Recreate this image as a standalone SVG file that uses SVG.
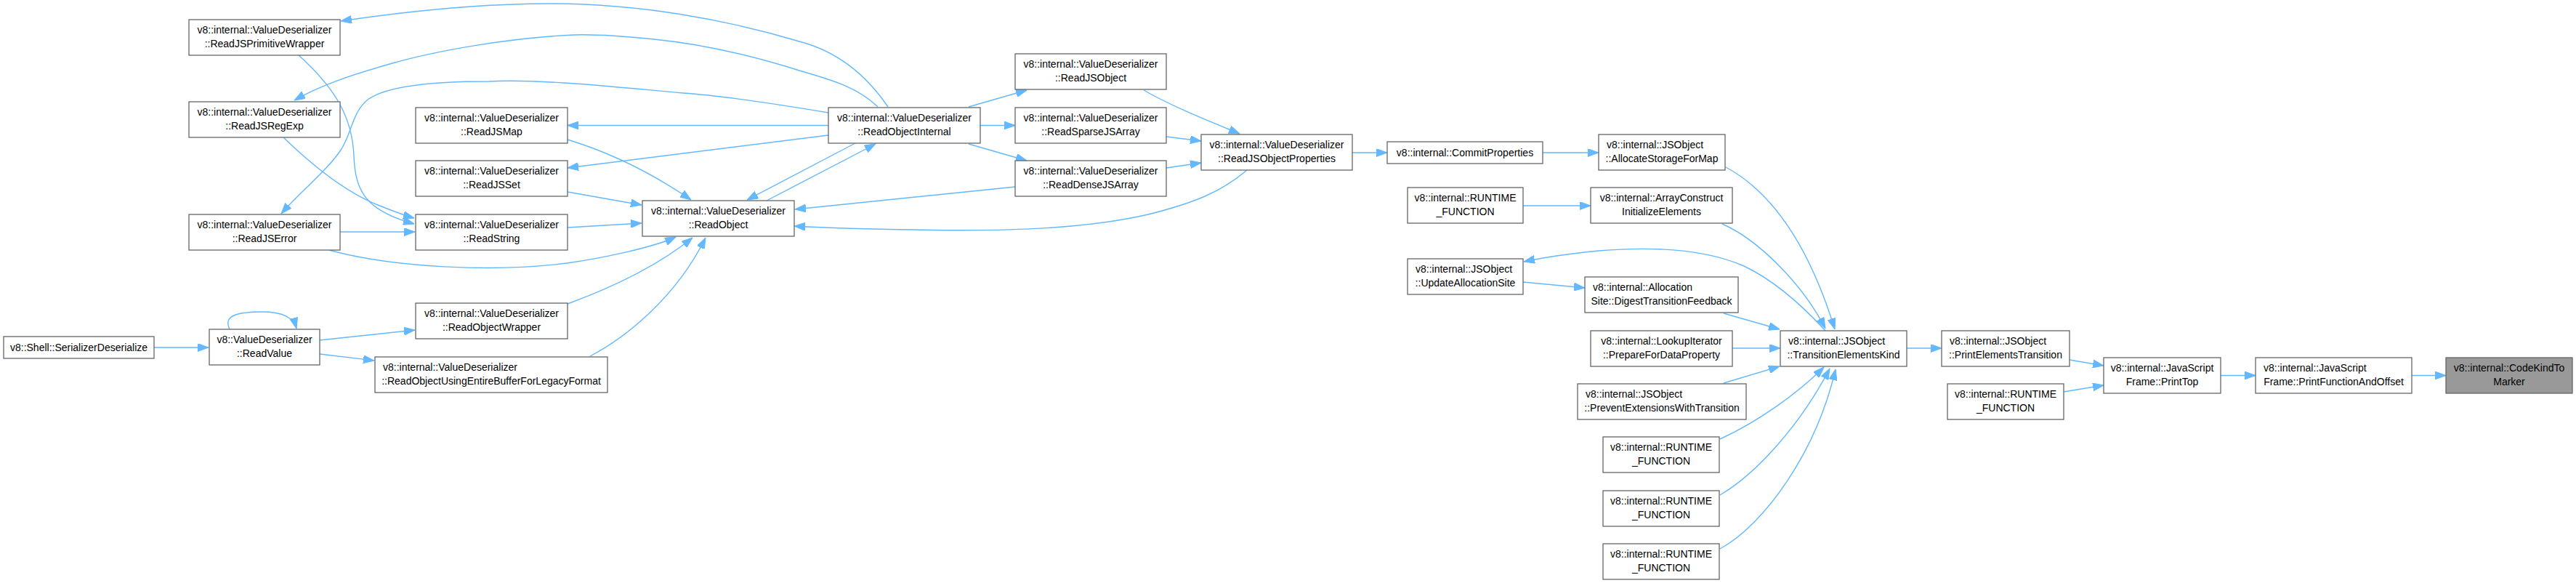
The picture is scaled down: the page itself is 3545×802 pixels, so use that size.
<svg xmlns="http://www.w3.org/2000/svg" width="3545" height="802" viewBox="0 0 3545 802">
<style>
.node rect{fill:#ffffff;stroke:#666666;stroke-width:1.3}
.node rect.hl{fill:#999999}
text{font-family:"Liberation Sans",Arial,sans-serif;font-size:14px;fill:#000000}
.c{text-anchor:middle}
.l{text-anchor:start}
.edges path{fill:none;stroke:#63B8FF;stroke-width:1.4;marker-end:url(#ah)}
</style>
<defs>
<marker id="ah" viewBox="0 0 15 11" refX="15" refY="5.5" markerWidth="15" markerHeight="11" markerUnits="userSpaceOnUse" orient="auto"><path d="M0,0 L15,5.5 L0,11 z" fill="#63B8FF" stroke="#63B8FF" stroke-width="1"/></marker>
</defs>
<rect x="0" y="0" width="3545" height="802" fill="#ffffff"/>
<g class="edges" id="edges">
<path d="M212,478 L287,478"/>
<path d="M316,453 C306,433 330,429 360,429 C390,429 404,437 408,452"/>
<path d="M440,468 L571,454"/>
<path d="M440,487 L515,496"/>
<path d="M781,418 C830,400 900,370 953,327"/>
<path d="M812,490 C860,465 930,410 971,327"/>
<path d="M781,192 C840,210 900,240 951,275"/>
<path d="M781,264 L883,282"/>
<path d="M781,313 L883,307"/>
<path d="M453,344 C540,368 680,375 780,362 C830,355 900,340 930,326"/>
<path d="M468,319 L571,319"/>
<path d="M390,189 C420,218 470,262 520,282 C540,290 555,296 570,300"/>
<path d="M410,75 C460,120 485,160 487,215 C489,265 505,290 570,308"/>
<path d="M1222,147 C1190,100 1150,70 1100,57 C1000,27 880,5 757,5 C650,5 550,17 469,29"/>
<path d="M1208,147 C1180,120 1145,110 1100,97 C1030,75 960,60 900,54 C850,49 820,47 790,48 C700,52 600,70 540,87 C480,104 440,118 405,138"/>
<path d="M1140,155 C1080,145 1000,132 940,128 C850,120 740,108 673,112 C600,112 530,118 505,138 C485,155 485,180 470,205 C450,235 415,262 387,294"/>
<path d="M1140,172.5 L781,172.5"/>
<path d="M1140,186 L781,231"/>
<path d="M1177,197 L1028,275"/>
<path d="M1055,276 L1205,198"/>
<path d="M1333,147 L1413,124"/>
<path d="M1349,172.5 L1397,172.5"/>
<path d="M1333,198 L1413,221"/>
<path d="M1574,124 C1610,145 1660,165 1706,184"/>
<path d="M1605,188 L1653,194"/>
<path d="M1605,231 L1653,224"/>
<path d="M1397,257 L1094,288"/>
<path d="M1716,234 C1680,265 1640,280 1580,295 C1480,318 1350,318 1260,316 C1180,315 1130,313 1093,311"/>
<path d="M1861,210 L1909,210"/>
<path d="M2123,210 L2200,210"/>
<path d="M2375,230 C2440,265 2490,340 2525,453"/>
<path d="M2096,283 L2189,283"/>
<path d="M2370,308 C2420,330 2480,390 2512,452"/>
<path d="M2512,455 C2480,420 2440,385 2400,366 C2340,340 2260,340 2200,345 C2160,349 2125,354 2097,360"/>
<path d="M2096,388 L2181,396"/>
<path d="M2372,431 L2449,453"/>
<path d="M2384,479 L2450,479"/>
<path d="M2372,527 L2449,504"/>
<path d="M2367,604 C2420,580 2475,540 2510,505"/>
<path d="M2367,681 C2420,650 2480,580 2518,507"/>
<path d="M2367,755 C2430,720 2500,620 2526,508"/>
<path d="M2624,479 L2672,479"/>
<path d="M2848,495 L2895,503"/>
<path d="M2840,539 L2895,530"/>
<path d="M3056,516.5 L3104,516.5"/>
<path d="M3319,516.5 L3366,516.5"/>
</g>
<g class="node" id="n_serdes"><rect x="5" y="463" width="207" height="30"/><text class="c" x="108.5" y="482.5">v8::Shell::SerializerDeserialize</text></g>
<g class="node" id="n_readvalue"><rect x="288" y="453" width="152" height="49"/><text class="c" x="364" y="471.5">v8::ValueDeserializer</text><text class="c" x="364" y="490.5">::ReadValue</text></g>
<g class="node" id="n_primwrap"><rect x="260" y="27" width="208" height="49"/><text class="c" x="364" y="45.5">v8::internal::ValueDeserializer</text><text class="c" x="364" y="64.5">::ReadJSPrimitiveWrapper</text></g>
<g class="node" id="n_regexp"><rect x="260" y="140" width="208" height="49"/><text class="c" x="364" y="158.5">v8::internal::ValueDeserializer</text><text class="c" x="364" y="177.5">::ReadJSRegExp</text></g>
<g class="node" id="n_jserror"><rect x="260" y="295" width="208" height="49"/><text class="c" x="364" y="313.5">v8::internal::ValueDeserializer</text><text class="c" x="364" y="332.5">::ReadJSError</text></g>
<g class="node" id="n_jsmap"><rect x="572" y="148" width="209" height="49"/><text class="c" x="676.5" y="166.5">v8::internal::ValueDeserializer</text><text class="c" x="676.5" y="185.5">::ReadJSMap</text></g>
<g class="node" id="n_jsset"><rect x="572" y="221" width="209" height="49"/><text class="c" x="676.5" y="239.5">v8::internal::ValueDeserializer</text><text class="c" x="676.5" y="258.5">::ReadJSSet</text></g>
<g class="node" id="n_readstring"><rect x="572" y="295" width="209" height="49"/><text class="c" x="676.5" y="313.5">v8::internal::ValueDeserializer</text><text class="c" x="676.5" y="332.5">::ReadString</text></g>
<g class="node" id="n_objwrapper"><rect x="572" y="417" width="209" height="49"/><text class="c" x="676.5" y="435.5">v8::internal::ValueDeserializer</text><text class="c" x="676.5" y="454.5">::ReadObjectWrapper</text></g>
<g class="node" id="n_legacy"><rect x="516" y="491" width="320" height="49"/><text class="l" x="527" y="509.5">v8::internal::ValueDeserializer</text><text class="c" x="676" y="528.5">::ReadObjectUsingEntireBufferForLegacyFormat</text></g>
<g class="node" id="n_readobject"><rect x="884" y="276" width="209" height="49"/><text class="c" x="988.5" y="294.5">v8::internal::ValueDeserializer</text><text class="c" x="988.5" y="313.5">::ReadObject</text></g>
<g class="node" id="n_readobjinternal"><rect x="1140" y="148" width="209" height="49"/><text class="c" x="1244.5" y="166.5">v8::internal::ValueDeserializer</text><text class="c" x="1244.5" y="185.5">::ReadObjectInternal</text></g>
<g class="node" id="n_jsobject"><rect x="1397" y="74" width="208" height="49"/><text class="c" x="1501" y="92.5">v8::internal::ValueDeserializer</text><text class="c" x="1501" y="111.5">::ReadJSObject</text></g>
<g class="node" id="n_sparse"><rect x="1397" y="148" width="208" height="49"/><text class="c" x="1501" y="166.5">v8::internal::ValueDeserializer</text><text class="c" x="1501" y="185.5">::ReadSparseJSArray</text></g>
<g class="node" id="n_dense"><rect x="1397" y="221" width="208" height="49"/><text class="c" x="1501" y="239.5">v8::internal::ValueDeserializer</text><text class="c" x="1501" y="258.5">::ReadDenseJSArray</text></g>
<g class="node" id="n_props"><rect x="1653" y="185" width="208" height="49"/><text class="c" x="1757" y="203.5">v8::internal::ValueDeserializer</text><text class="c" x="1757" y="222.5">::ReadJSObjectProperties</text></g>
<g class="node" id="n_commit"><rect x="1909" y="195" width="214" height="30"/><text class="c" x="2016" y="214.5">v8::internal::CommitProperties</text></g>
<g class="node" id="n_allocstorage"><rect x="2200" y="185" width="174" height="49"/><text class="l" x="2211" y="203.5">v8::internal::JSObject</text><text class="c" x="2287" y="222.5">::AllocateStorageForMap</text></g>
<g class="node" id="n_rt1"><rect x="1937" y="258" width="159" height="49"/><text class="c" x="2016.5" y="276.5">v8::internal::RUNTIME</text><text class="c" x="2016.5" y="295.5">_FUNCTION</text></g>
<g class="node" id="n_arrayconstruct"><rect x="2189" y="258" width="195" height="49"/><text class="c" x="2286.5" y="276.5">v8::internal::ArrayConstruct</text><text class="c" x="2286.5" y="295.5">InitializeElements</text></g>
<g class="node" id="n_updatealloc"><rect x="1937" y="356" width="159" height="49"/><text class="l" x="1948" y="374.5">v8::internal::JSObject</text><text class="c" x="2016.5" y="393.5">::UpdateAllocationSite</text></g>
<g class="node" id="n_digest"><rect x="2181" y="381" width="211" height="49"/><text class="l" x="2192" y="399.5">v8::internal::Allocation</text><text class="c" x="2286.5" y="418.5">Site::DigestTransitionFeedback</text></g>
<g class="node" id="n_prepare"><rect x="2189" y="455" width="195" height="49"/><text class="c" x="2286.5" y="473.5">v8::internal::LookupIterator</text><text class="c" x="2286.5" y="492.5">::PrepareForDataProperty</text></g>
<g class="node" id="n_prevent"><rect x="2171" y="528" width="232" height="49"/><text class="l" x="2182" y="546.5">v8::internal::JSObject</text><text class="c" x="2287" y="565.5">::PreventExtensionsWithTransition</text></g>
<g class="node" id="n_rt2"><rect x="2206" y="601" width="160" height="49"/><text class="c" x="2286" y="619.5">v8::internal::RUNTIME</text><text class="c" x="2286" y="638.5">_FUNCTION</text></g>
<g class="node" id="n_rt3"><rect x="2206" y="675" width="160" height="49"/><text class="c" x="2286" y="693.5">v8::internal::RUNTIME</text><text class="c" x="2286" y="712.5">_FUNCTION</text></g>
<g class="node" id="n_rt4"><rect x="2206" y="748" width="160" height="49"/><text class="c" x="2286" y="766.5">v8::internal::RUNTIME</text><text class="c" x="2286" y="785.5">_FUNCTION</text></g>
<g class="node" id="n_tek"><rect x="2450" y="455" width="174" height="49"/><text class="l" x="2461" y="473.5">v8::internal::JSObject</text><text class="c" x="2537" y="492.5">::TransitionElementsKind</text></g>
<g class="node" id="n_printelem"><rect x="2672" y="455" width="176" height="49"/><text class="l" x="2683" y="473.5">v8::internal::JSObject</text><text class="c" x="2760" y="492.5">::PrintElementsTransition</text></g>
<g class="node" id="n_rt5"><rect x="2680" y="528" width="160" height="49"/><text class="c" x="2760" y="546.5">v8::internal::RUNTIME</text><text class="c" x="2760" y="565.5">_FUNCTION</text></g>
<g class="node" id="n_printtop"><rect x="2895" y="492" width="161" height="49"/><text class="c" x="2975.5" y="510.5">v8::internal::JavaScript</text><text class="c" x="2975.5" y="529.5">Frame::PrintTop</text></g>
<g class="node" id="n_pfao"><rect x="3104" y="492" width="215" height="49"/><text class="l" x="3115" y="510.5">v8::internal::JavaScript</text><text class="c" x="3211.5" y="529.5">Frame::PrintFunctionAndOffset</text></g>
<g class="node" id="n_ckm"><rect class="hl" x="3366" y="492" width="174" height="49"/><text class="c" x="3453" y="510.5">v8::internal::CodeKindTo</text><text class="c" x="3453" y="529.5">Marker</text></g>
</svg>
